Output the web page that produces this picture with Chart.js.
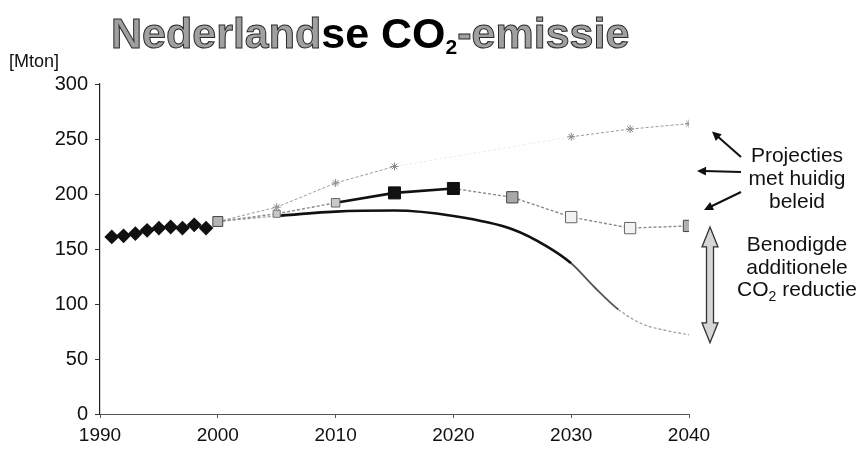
<!DOCTYPE html>
<html lang="nl">
<head>
<meta charset="utf-8">
<title>Nederlandse CO2-emissie</title>
<script src="https://cdn.jsdelivr.net/npm/chart.js@4"></script>
<style>
  html, body { margin: 0; padding: 0; background: #fff; }
  #wrap { width: 859px; height: 450px; position: relative; }
</style>
</head>
<body>
<div id="wrap"><canvas id="c"></canvas></div>
<script>
// Historical emissions (Mton)
const histYears  = [1991, 1992, 1993, 1994, 1995, 1996, 1997, 1998, 1999];
const histValues = [161, 162, 164, 167, 169, 170, 169, 172, 169];

// Projections with current policy, five-year steps
const projYears    = [2000, 2005, 2010, 2015, 2020, 2025, 2030, 2035, 2040];
const policyValues = [175, 182, 192, 201, 205, 197, 179, 169, 171];
const highValues   = [175, 188, 210, 225, null, null, 252, 259, 264];
const midProjection2040 = 221;

// Path needed for the additional reduction
const targetYears  = [2000, 2005, 2010, 2015, 2020, 2025, 2028, 2030, 2032, 2034, 2036, 2038, 2040];
const targetValues = [175, 180, 184, 185, 180, 168, 152, 137, 115, 95, 82, 76, 72];

// Axis ticks
const yTicks = [0, 50, 100, 150, 200, 250, 300];
const xTicks = [1990, 2000, 2010, 2020, 2030, 2040];

const pts = (xs, ys) => xs.map((x, i) => ({ x, y: ys[i] }));
const FONT = '"Liberation Sans", Arial, sans-serif';

// Marker look for the current-policy series
const policyFill   = ['#b4b4b4', '#c8c8c8', '#c8c8c8', '#111', '#111', '#a8a8a8', '#f2f2f2', '#f2f2f2', '#b0b0b0'];
const policyBorder = ['#444', '#777', '#666', '#111', '#111', '#444', '#666', '#666', '#444'];
const policyRadius = [7, 5, 6, 8.5, 8.5, 8, 8, 8, 8];

function drawParts(ctx, parts, x, y, align) {
  let total = 0;
  parts.forEach(p => { ctx.font = p.font; p.w = ctx.measureText(p.text).width; total += p.w; });
  let cx = align === 'center' ? x - total / 2 : x;
  ctx.textAlign = 'left';
  ctx.textBaseline = 'alphabetic';
  parts.forEach(p => {
    ctx.font = p.font;
    const yy = y + (p.dy || 0);
    if (p.fill) { ctx.fillStyle = p.fill; ctx.fillText(p.text, cx, yy); }
    if (p.stroke) { ctx.strokeStyle = p.stroke; ctx.lineWidth = p.lw || 1; ctx.strokeText(p.text, cx, yy); }
    cx += p.w;
  });
}

function arrow(ctx, x1, y1, x2, y2) {
  const a = Math.atan2(y2 - y1, x2 - x1);
  const hl = 9, hw = 4.5;
  ctx.strokeStyle = '#111';
  ctx.lineWidth = 2;
  ctx.beginPath();
  ctx.moveTo(x1, y1);
  ctx.lineTo(x2 - Math.cos(a) * hl * 0.8, y2 - Math.sin(a) * hl * 0.8);
  ctx.stroke();
  ctx.fillStyle = '#111';
  ctx.beginPath();
  ctx.moveTo(x2, y2);
  ctx.lineTo(x2 - Math.cos(a) * hl - Math.sin(a) * hw, y2 - Math.sin(a) * hl + Math.cos(a) * hw);
  ctx.lineTo(x2 - Math.cos(a) * hl + Math.sin(a) * hw, y2 - Math.sin(a) * hl - Math.cos(a) * hw);
  ctx.closePath();
  ctx.fill();
}

function doubleArrow(ctx, x, yTop, yBot) {
  const sw = 3.5, hw = 8, hl = 20;
  ctx.beginPath();
  ctx.moveTo(x, yTop);
  ctx.lineTo(x + hw, yTop + hl);
  ctx.lineTo(x + sw, yTop + hl);
  ctx.lineTo(x + sw, yBot - hl);
  ctx.lineTo(x + hw, yBot - hl);
  ctx.lineTo(x, yBot);
  ctx.lineTo(x - hw, yBot - hl);
  ctx.lineTo(x - sw, yBot - hl);
  ctx.lineTo(x - sw, yTop + hl);
  ctx.lineTo(x - hw, yTop + hl);
  ctx.closePath();
  ctx.fillStyle = '#d6d6d6';
  ctx.fill();
  ctx.strokeStyle = '#333';
  ctx.lineWidth = 1.3;
  ctx.stroke();
}

const decorations = {
  id: 'decorations',
  afterDraw(chart) {
    const ctx = chart.ctx;
    const xs = chart.scales.x, ys = chart.scales.y;
    ctx.save();

    // Title
    drawParts(ctx, [
      { text: 'Nederland', font: 'bold 43px ' + FONT, fill: '#a0a0a0', stroke: '#2a2a2a', lw: 1 },
      { text: 'se CO', font: 'bold 43px ' + FONT, fill: '#000' },
      { text: '2', font: 'bold 21px ' + FONT, fill: '#000', dy: 6 },
      { text: '-emissie', font: 'bold 43px ' + FONT, fill: '#a0a0a0', stroke: '#2a2a2a', lw: 1 }
    ], 111, 48, 'left');

    // Unit label
    drawParts(ctx, [{ text: '[Mton]', font: '18px ' + FONT, fill: '#111' }], 9, 67, 'left');

    // Right-hand notes
    const tx = 797;
    const f = '21px ' + FONT;
    drawParts(ctx, [{ text: 'Projecties', font: f, fill: '#111' }], tx, 162, 'center');
    drawParts(ctx, [{ text: 'met huidig', font: f, fill: '#111' }], tx, 185, 'center');
    drawParts(ctx, [{ text: 'beleid', font: f, fill: '#111' }], tx, 208, 'center');
    drawParts(ctx, [{ text: 'Benodigde', font: f, fill: '#111' }], tx, 251, 'center');
    drawParts(ctx, [{ text: 'additionele', font: f, fill: '#111' }], tx, 274, 'center');
    drawParts(ctx, [
      { text: 'CO', font: f, fill: '#111' },
      { text: '2', font: '14px ' + FONT, fill: '#111', dy: 5 },
      { text: ' reductie', font: f, fill: '#111' }
    ], tx, 296, 'center');

    // Arrows pointing at the projection end values
    const xEnd = xs.getPixelForValue(2040);
    const hiLast = highValues[highValues.length - 1];
    const polLast = policyValues[policyValues.length - 1];
    const tgtLast = targetValues[targetValues.length - 1];
    arrow(ctx, 741, 157, xEnd + 23, ys.getPixelForValue(hiLast) + 8);
    arrow(ctx, 741, 172, xEnd + 8, ys.getPixelForValue(midProjection2040));
    arrow(ctx, 741, 192, xEnd + 15, ys.getPixelForValue(polLast) - 16);

    // Gap between current policy and the required path
    doubleArrow(ctx, xEnd + 21, ys.getPixelForValue(polLast) + 1, ys.getPixelForValue(tgtLast) + 8);

    ctx.restore();
  }
};

const gray = '#8a8a8a';

new Chart(document.getElementById('c'), {
  type: 'line',
  data: {
    datasets: [
      {
        label: 'Hoge projectie',
        data: pts(projYears, highValues),
        borderColor: '#9a9a9a',
        borderWidth: 1,
        borderDash: [3, 2],
        spanGaps: true,
        segment: {
          borderColor: c => (c.p0.skip || c.p1.skip) ? '#ececec' : undefined
        },
        pointStyle: 'star',
        pointRadius: 4,
        pointBorderColor: '#888',
        pointBorderWidth: 1,
        pointBackgroundColor: '#fff',
        order: 4
      },
      {
        label: 'Benodigd pad',
        data: pts(targetYears, targetValues),
        borderColor: '#111',
        borderWidth: 2.5,
        cubicInterpolationMode: 'monotone',
        pointRadius: 0,
        segment: {
          borderColor: c => {
            const x = c.p0.parsed.x;
            if (x < 2005) return '#9a9a9a';
            if (x < 2030) return '#111';
            if (x < 2034) return '#555';
            return '#9a9a9a';
          },
          borderWidth: c => {
            const x = c.p0.parsed.x;
            if (x < 2005) return 1.2;
            if (x < 2030) return 2.6;
            if (x < 2034) return 1.8;
            return 1.2;
          },
          borderDash: c => (c.p0.parsed.x >= 2034 || c.p0.parsed.x < 2005) ? [3, 2] : []
        },
        order: 3
      },
      {
        label: 'Huidig beleid',
        data: pts(projYears, policyValues),
        borderColor: '#111',
        borderWidth: 2.5,
        segment: {
          borderColor: c => (c.p0.parsed.x >= 2010 && c.p0.parsed.x < 2020) ? '#111' : gray,
          borderWidth: c => (c.p0.parsed.x >= 2010 && c.p0.parsed.x < 2020) ? 2.6 : 1.4,
          borderDash: c => (c.p0.parsed.x >= 2010 && c.p0.parsed.x < 2020) ? [] : [3, 2]
        },
        pointStyle: 'rect',
        pointRadius: policyRadius,
        pointBackgroundColor: policyFill,
        pointBorderColor: policyBorder,
        pointBorderWidth: 1,
        order: 2
      },
      {
        label: 'Historisch',
        data: pts(histYears, histValues),
        borderColor: '#111',
        borderWidth: 2,
        pointStyle: 'rectRot',
        pointRadius: 6,
        pointBackgroundColor: '#111',
        pointBorderColor: '#111',
        order: 1
      }
    ]
  },
  options: {
    responsive: true,
    maintainAspectRatio: false,
    animation: false,
    layout: { padding: { top: 84, right: 170, left: 0, bottom: 0 } },
    plugins: {
      legend: { display: false },
      tooltip: { enabled: false },
      title: { display: false }
    },
    scales: {
      x: {
        type: 'linear',
        min: 1990,
        max: 2040,
        afterFit: s => { s.height = 36; },
        afterBuildTicks: s => { s.ticks = xTicks.map(v => ({ value: v })); },
        ticks: {
          color: '#111',
          font: { family: FONT, size: 19 },
          padding: 6,
          maxRotation: 0,
          callback: v => String(v)
        },
        grid: { drawOnChartArea: false, color: '#555', tickLength: 4 },
        border: { color: '#555', width: 1 }
      },
      y: {
        min: 0,
        max: 300,
        afterFit: s => { s.width = 100; },
        afterBuildTicks: s => { s.ticks = yTicks.map(v => ({ value: v })); },
        ticks: {
          color: '#111',
          font: { family: FONT, size: 20 },
          padding: 7,
          callback: v => String(v)
        },
        grid: { drawOnChartArea: false, color: '#333', tickLength: 5 },
        border: { color: '#222', width: 1.2 }
      }
    }
  },
  plugins: [decorations]
});
</script>
</body>
</html>
